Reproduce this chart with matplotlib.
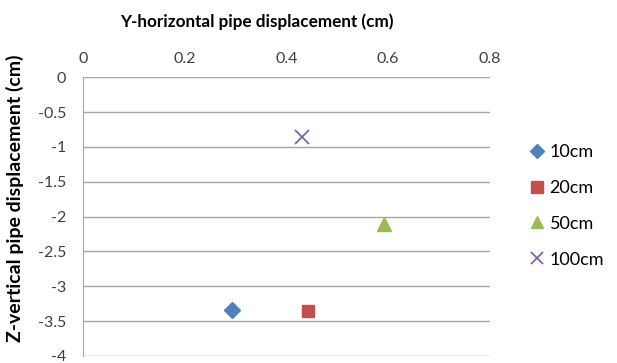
import matplotlib
matplotlib.use("Agg")
import matplotlib.pyplot as plt

plt.rcParams['font.family'] = ['Lato', 'DejaVu Sans']

series = ["10cm", "20cm", "50cm", "100cm"]
y_horiz = [0.293, 0.442, 0.592, 0.430]
z_vert = [-3.34, -3.35, -2.10, -0.85]
colors = ["#4F81BD", "#C0504D", "#9BBB59", "#8064A2"]
markers = ["D", "s", "^", "x"]
sizes = [8, 9, 10, 10]
xticks = [0, 0.2, 0.4, 0.6, 0.8]
yticks = [0, -0.5, -1, -1.5, -2, -2.5, -3, -3.5, -4]

fig = plt.figure(figsize=(6.17, 3.63), dpi=100)
ax = fig.add_axes([0.1345, 0.0193, 0.6595, 0.7677])

for name, x, y, c, m, s in zip(series, y_horiz, z_vert, colors, markers, sizes):
    if m == "x":
        ax.plot([x], [y], linestyle="none", marker=m, markersize=s, color=c,
                markeredgewidth=1.3, label=name)
    else:
        ax.plot([x], [y], linestyle="none", marker=m, markersize=s, color=c,
                markeredgecolor=c, label=name)

ax.set_xlim(0, 0.8)
ax.set_ylim(-4, 0)
ax.set_xticks(xticks)
ax.set_xticklabels(["0", "0.2", "0.4", "0.6", "0.8"])
ax.set_yticks(yticks)
ax.set_yticklabels(["0", "-0.5", "-1", "-1.5", "-2", "-2.5", "-3", "-3.5", "-4"])
ax.xaxis.tick_top()
ax.xaxis.set_label_position("top")
ax.tick_params(axis="both", length=0, labelsize=11.5, colors="#404040")
ax.tick_params(axis="x", pad=8)
ax.tick_params(axis="y", pad=12)
ax.grid(axis="y", color="#A6A6A6", linewidth=1)
ax.set_axisbelow(True)
for side in ["top", "right", "bottom"]:
    ax.spines[side].set_visible(False)
ax.spines["left"].set_color("#A6A6A6")

ax.set_xlabel("Y-horizontal pipe displacement (cm)", fontsize=12.3, fontweight="bold",
              color="black")
ax.xaxis.set_label_coords(0.4275, 1.18)
ax.set_ylabel("Z-vertical pipe displacement (cm)", fontsize=14, fontweight="bold",
              color="black")
ax.yaxis.set_label_coords(-0.145, 0.567)

leg = ax.legend(loc="center left", bbox_to_anchor=(1.08, 0.539), frameon=False,
                fontsize=13, handlelength=0.8, handletextpad=0.3,
                labelspacing=1.1, markerscale=0.9, borderaxespad=0)

fig.savefig("out.png", dpi=100)
